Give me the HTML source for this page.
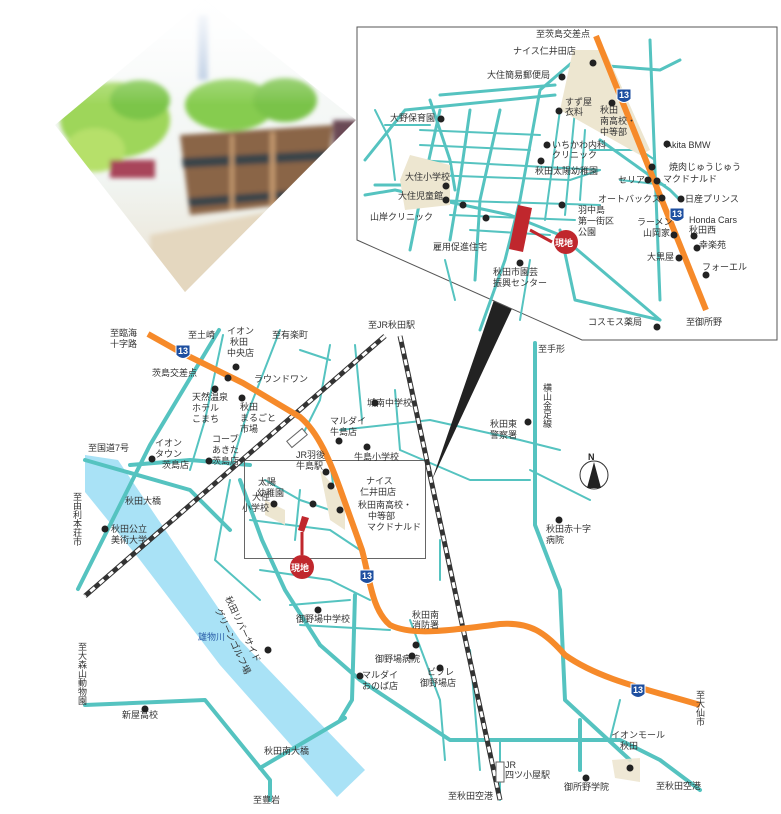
<!DOCTYPE html>
<html><head><meta charset="utf-8"><style>
html,body{margin:0;padding:0;background:#fff;}
svg{display:block;}
text{font-family:"Liberation Sans","Noto Sans CJK JP",sans-serif;fill:#333;font-size:9px;}
.t{stroke:#55c3c0;fill:none;stroke-linecap:round;stroke-linejoin:round;}
</style></head><body>
<svg width="781" height="814" viewBox="0 0 781 814" xmlns="http://www.w3.org/2000/svg">
<defs>
<linearGradient id="bg" x1="0" y1="0" x2="0" y2="1"><stop offset="0" stop-color="#fbfcfd"/><stop offset="0.6" stop-color="#f1f5f2"/><stop offset="1" stop-color="#e9dfcd"/></linearGradient>
<linearGradient id="fade" x1="0" y1="0" x2="0" y2="1"><stop offset="0" stop-color="#fff" stop-opacity="1"/><stop offset="0.35" stop-color="#fff" stop-opacity="0"/></linearGradient>
<clipPath id="dm"><polygon points="205,0 356,120 185,292 55,125"/></clipPath>
<filter id="bl"><feGaussianBlur stdDeviation="2.5"/></filter>
</defs>
<!-- photo -->
<g clip-path="url(#dm)">
<rect x="40" y="0" width="320" height="300" fill="url(#bg)"/>
<g filter="url(#bl)">
<rect x="198" y="15" width="10" height="65" fill="#6f93c8" opacity="0.5"/>
<polygon points="150,235 356,195 356,300 150,300" fill="#e4d7bf"/>
<ellipse cx="115" cy="120" rx="55" ry="38" fill="#9ed65a"/>
<ellipse cx="95" cy="150" rx="30" ry="22" fill="#b6e06a"/>
<ellipse cx="140" cy="100" rx="30" ry="20" fill="#7cc548"/>
<rect x="110" y="160" width="45" height="18" fill="#a8455a"/>
<ellipse cx="230" cy="105" rx="45" ry="26" fill="#86cc50"/>
<ellipse cx="285" cy="100" rx="32" ry="22" fill="#7ac34a"/>
<path d="M180,135 L333,125 L325,200 L190,215 Z" fill="#8a6546"/>
<path d="M182,158 L333,150 L333,160 L183,168 Z" fill="#3a454a"/>
<path d="M188,198 L325,188 L325,196 L190,207 Z" fill="#3a454a"/>
<rect x="230" y="135" width="4" height="75" fill="#c49a70"/>
<rect x="270" y="132" width="5" height="75" fill="#c49a70"/>
<rect x="333" y="120" width="25" height="55" fill="#6b4a55"/>
</g>
<rect x="40" y="0" width="320" height="300" fill="url(#fade)"/>
</g>

<!-- river -->
<polygon points="85,455 118,460 172,540 240,640 365,770 337,797 220,665 140,560 85,492" fill="#a9e2f6"/>
<text x="198" y="640" font-size="10" style="fill:#2a5ea8">雄物川</text>

<!-- roads main map -->
<g class="t" stroke-width="4">
<path d="M78,589 L150,445 L219,330"/>
<path d="M85,460 L190,490 L230,530"/>
<path d="M130,465 L190,460 L250,465"/>
<path d="M85,705 L205,700 L270,780 L270,800"/>
<path d="M535,343 L535,525 L560,590 L565,700 L630,760"/>
<path d="M355,595 L352,700 L340,720"/>
<path d="M240,480 L262,540 L285,590 L320,645 L360,680 L450,740 L620,740 L660,760 L700,790"/>
<path d="M260,768 L345,718"/>
<path d="M580,720 L580,770"/>
</g>
<g class="t" stroke-width="2">
<path d="M223,335 L205,420 L190,470"/>
<path d="M280,330 L245,420 L230,470"/>
<path d="M330,345 L320,400 L300,440"/>
<path d="M355,345 L362,420"/>
<path d="M300,350 L330,360"/>
<path d="M340,430 L430,420 L520,440"/>
<path d="M395,390 L400,450 L470,480 L530,480"/>
<path d="M265,480 L300,500 L330,510"/>
<path d="M250,520 L330,530 L360,550"/>
<path d="M260,570 L330,580 L370,600"/>
<path d="M290,605 L350,600"/>
<path d="M300,625 L390,630"/>
<path d="M410,620 L440,700 L445,760"/>
<path d="M470,650 L480,770"/>
<path d="M520,440 L560,450"/>
<path d="M500,740 L500,800"/>
<path d="M620,700 L610,740"/>
<path d="M530,470 L590,500"/>
<path d="M230,480 L215,560 L260,600"/>
<path d="M330,460 L335,500"/>
<path d="M300,490 L295,540"/>
<path d="M440,540 L440,580"/>
</g>

<!-- small box -->
<rect x="244.5" y="460.5" width="181" height="98" fill="none" stroke="#666" stroke-width="1"/>
<polygon points="320,470 345,500 345,530 330,520" fill="#ede6d0"/>
<polygon points="265,500 285,510 285,525 265,515" fill="#ede6d0"/>

<!-- railways -->
<path d="M385,336 L85,596" stroke="#333" stroke-width="5" fill="none"/>
<path d="M385,336 L85,596" stroke="#fff" stroke-width="3" stroke-dasharray="6,6" fill="none"/>
<path d="M400,336 L500,800" stroke="#333" stroke-width="5" fill="none"/>
<path d="M400,336 L500,800" stroke="#fff" stroke-width="3" stroke-dasharray="6,6" fill="none"/>
<rect x="287" y="434" width="20" height="8" fill="#fff" stroke="#666" transform="rotate(-40 297 438)"/>
<rect x="496" y="762" width="8" height="20" fill="#fff" stroke="#666"/>

<!-- orange route main -->
<path d="M148,334 L180,352 L243,383 L300,417 C318,432 330,460 343,497 L362,550 C370,580 372,610 390,625 C410,635 440,632 500,624 C530,622 545,632 565,655 C600,680 650,690 700,705" stroke="#f68a2a" stroke-width="6" fill="none" stroke-linecap="butt"/>

<!-- wedge + inset -->
<polygon points="494,300 516,300 432,480" fill="#222"/>
<polygon points="357,27 777,27 777,340 582,340 357,240" fill="#fff" stroke="#555" stroke-width="1"/>
<g class="t" stroke-width="3">
<path d="M575,60 L540,90 L520,200 L505,260 L480,330"/>
<path d="M600,60 L575,60 L570,75"/>
<path d="M440,95 L555,85"/>
<path d="M365,160 L405,110 L455,105 L555,95"/>
<path d="M430,100 L450,160 L455,190"/>
<path d="M375,185 L415,185"/>
<path d="M365,195 L395,190 L440,200 L510,215 L560,235 L660,320"/>
<path d="M440,110 L420,200 L410,250"/>
<path d="M470,110 L460,180 L450,240"/>
<path d="M500,110 L480,200 L475,280"/>
<path d="M600,140 L670,190 L680,200"/>
<path d="M595,65 L660,70 L680,60"/>
<path d="M650,40 L660,300"/>
<path d="M560,230 L575,300 L660,320"/>
</g>
<g class="t" stroke-width="2">
<path d="M420,130 L540,135"/>
<path d="M420,145 L530,150"/>
<path d="M415,160 L600,170"/>
<path d="M430,175 L570,180 L600,170"/>
<path d="M430,200 L600,205"/>
<path d="M450,215 L575,220"/>
<path d="M470,230 L550,235"/>
<path d="M560,110 L545,220"/>
<path d="M575,110 L565,215"/>
<path d="M585,130 L580,200"/>
<path d="M375,110 L390,140 L395,180"/>
<path d="M385,125 L430,125"/>
<path d="M590,150 L640,150 L655,160"/>
<path d="M620,180 L665,185"/>
<path d="M445,260 L455,300"/>
<path d="M530,260 L520,320"/>
</g>
<polygon points="573,50 605,50 650,150 640,155 560,110" fill="#ede6d0"/>
<polygon points="410,155 450,165 450,205 405,210 400,180" fill="#ede6d0"/>
<path d="M596,36 L706,310" stroke="#f68a2a" stroke-width="6" fill="none"/>
<polygon points="518,205 532,208 523,252 509,249" fill="#c0272d"/>
<path d="M530,230 L552,242" stroke="#c0272d" stroke-width="3"/>
<circle cx="566" cy="242" r="12" fill="#c0272d"/>
<text x="555" y="246" font-size="10" font-weight="bold" style="fill:#fff">現地</text>

<!-- inset labels -->
<g font-size="8.5">
<text x="536" y="37">至茨島交差点</text>
<text x="513" y="54">ナイス仁井田店</text>
<text x="487" y="78">大住簡易郵便局</text>
<text x="565" y="105">すず屋</text><text x="565" y="115">衣料</text>
<text x="600" y="113">秋田</text><text x="600" y="124">南高校・</text><text x="600" y="135">中等部</text>
<text x="390" y="121">大野保育園</text>
<text x="552" y="148">いちかわ内科</text><text x="552" y="158">クリニック</text>
<text x="535" y="174">秋田太陽幼稚園</text>
<text x="405" y="180">大住小学校</text>
<text x="398" y="199">大住児童館</text>
<text x="370" y="220">山岸クリニック</text>
<text x="578" y="213">羽中島</text><text x="578" y="224">第一街区</text><text x="578" y="235">公園</text>
<text x="433" y="250">雇用促進住宅</text>
<text x="493" y="275">秋田市園芸</text><text x="493" y="286">振興センター</text>
<text x="666" y="148">Akita BMW</text>
<text x="669" y="170">焼肉じゅうじゅう</text>
<text x="618" y="183">セリア</text>
<text x="663" y="182">マクドナルド</text>
<text x="598" y="202">オートバックス</text>
<text x="685" y="202">日産プリンス</text>
<text x="689" y="223">Honda Cars</text><text x="689" y="233">秋田西</text>
<text x="637" y="225">ラーメン</text><text x="643" y="236">山岡家</text>
<text x="699" y="248">幸楽苑</text>
<text x="647" y="260">大黒屋</text>
<text x="702" y="270">フォーエル</text>
<text x="588" y="325">コスモス薬局</text>
<text x="686" y="325">至御所野</text>
</g>
<g fill="#222">
<circle cx="593" cy="63" r="3.5"/><circle cx="562" cy="77" r="3.5"/><circle cx="559" cy="111" r="3.5"/><circle cx="612" cy="103" r="3.5"/>
<circle cx="441" cy="119" r="3.5"/><circle cx="547" cy="145" r="3.5"/><circle cx="541" cy="161" r="3.5"/><circle cx="446" cy="186" r="3.5"/>
<circle cx="446" cy="200" r="3.5"/><circle cx="463" cy="205" r="3.5"/><circle cx="562" cy="205" r="3.5"/><circle cx="486" cy="218" r="3.5"/>
<circle cx="520" cy="263" r="3.5"/><circle cx="667" cy="144" r="3.5"/><circle cx="652" cy="167" r="3.5"/><circle cx="648" cy="180" r="3.5"/>
<circle cx="657" cy="181" r="3.5"/><circle cx="662" cy="198" r="3.5"/><circle cx="681" cy="199" r="3.5"/><circle cx="674" cy="235" r="3.5"/>
<circle cx="694" cy="236" r="3.5"/><circle cx="697" cy="248" r="3.5"/><circle cx="679" cy="258" r="3.5"/><circle cx="706" cy="275" r="3.5"/>
<circle cx="657" cy="327" r="3.5"/>
</g>

<!-- shields -->
<g font-size="8" font-weight="bold">
<g transform="translate(624,96)"><path d="M-7,-7 L7,-7 L7,3 Q0,10 -7,3Z" fill="#1e4fa0" stroke="#fff"/><text x="-5" y="2" style="fill:#fff">13</text></g>
<g transform="translate(677,215)"><path d="M-7,-7 L7,-7 L7,3 Q0,10 -7,3Z" fill="#1e4fa0" stroke="#fff"/><text x="-5" y="2" style="fill:#fff">13</text></g>
<g transform="translate(183,352)"><path d="M-7,-7 L7,-7 L7,3 Q0,10 -7,3Z" fill="#1e4fa0" stroke="#fff"/><text x="-5" y="2" style="fill:#fff">13</text></g>
<g transform="translate(367,577)"><path d="M-7,-7 L7,-7 L7,3 Q0,10 -7,3Z" fill="#1e4fa0" stroke="#fff"/><text x="-5" y="2" style="fill:#fff">13</text></g>
<g transform="translate(638,691)"><path d="M-7,-7 L7,-7 L7,3 Q0,10 -7,3Z" fill="#1e4fa0" stroke="#fff"/><text x="-5" y="2" style="fill:#fff">13</text></g>
</g>

<!-- site main map -->
<polygon points="302,516 309,518 304,532 298,530" fill="#c0272d"/>
<path d="M302,532 L302,555" stroke="#c0272d" stroke-width="3"/>
<circle cx="302" cy="567" r="12" fill="#c0272d"/>
<text x="291" y="571" font-size="10" font-weight="bold" style="fill:#fff">現地</text>

<!-- compass -->
<circle cx="594" cy="475" r="14" fill="#fff" stroke="#333"/>
<polygon points="594,462 587,488 601,488" fill="#222"/>
<text x="588" y="460" font-size="13" font-weight="bold" style="fill:#222">N</text>

<!-- main labels -->
<g font-size="8.5">
<text x="110" y="336">至臨海</text><text x="110" y="347">十字路</text>
<text x="188" y="338">至土崎</text>
<text x="227" y="334">イオン</text><text x="230" y="345">秋田</text><text x="227" y="356">中央店</text>
<text x="272" y="338">至有楽町</text>
<text x="368" y="328">至JR秋田駅</text>
<text x="152" y="376">茨島交差点</text>
<text x="254" y="382">ラウンドワン</text>
<text x="192" y="400">天然温泉</text><text x="192" y="411">ホテル</text><text x="192" y="422">こまち</text>
<text x="240" y="410">秋田</text><text x="240" y="421">まるごと</text><text x="240" y="432">市場</text>
<text x="367" y="406">城南中学校</text>
<text x="330" y="424">マルダイ</text><text x="330" y="435">牛島店</text>
<text x="155" y="446">イオン</text><text x="155" y="457">タウン</text><text x="162" y="468">茨島店</text>
<text x="212" y="442">コープ</text><text x="212" y="453">あきた</text><text x="212" y="464">茨島店</text>
<text x="88" y="451">至国道7号</text>
<text x="296" y="458">JR羽後</text><text x="296" y="469">牛島駅</text>
<text x="354" y="460">牛島小学校</text>
<text x="366" y="484">ナイス</text><text x="360" y="495">仁井田店</text>
<text x="358" y="508">秋田南高校・</text><text x="368" y="519">中等部</text>
<text x="367" y="530">マクドナルド</text>
<text x="258" y="485">太陽</text><text x="257" y="496">幼稚園</text>
<text x="252" y="500">大住</text><text x="242" y="511">小学校</text>
<text x="125" y="504">秋田大橋</text>
<text x="111" y="532">秋田公立</text><text x="111" y="543">美術大学</text>
<text x="490" y="427">秋田東</text><text x="490" y="438">警察署</text>
<text x="538" y="352">至手形</text>
<text x="546" y="532">秋田赤十字</text><text x="546" y="543">病院</text>
<text x="296" y="622">御野場中学校</text>
<text x="412" y="618">秋田南</text><text x="412" y="628">消防署</text>
<text x="375" y="662">御野場病院</text>
<text x="427" y="675">ビフレ</text><text x="420" y="686">御野場店</text>
<text x="362" y="678">マルダイ</text><text x="362" y="689">おのば店</text>
<text x="122" y="718">新屋高校</text>
<text x="264" y="754">秋田南大橋</text>
<text x="611" y="738">イオンモール</text><text x="620" y="749">秋田</text>
<text x="505" y="768">JR</text><text x="505" y="778">四ツ小屋駅</text>
<text x="448" y="799">至秋田空港</text>
<text x="564" y="790">御所野学院</text>
<text x="656" y="789">至秋田空港</text>
<text x="253" y="803">至豊岩</text>
</g>
<g font-size="8.5">
<text x="77" y="492" style="writing-mode:tb">至由利本荘市</text>
<text x="82" y="642" style="writing-mode:tb">至大森山動物園</text>
<text x="547" y="383" style="writing-mode:tb">横山金足線</text>
<text x="700" y="690" style="writing-mode:tb">至大仙市</text>
<text x="225" y="598" transform="rotate(65 225 598)">秋田リバーサイド</text>
<text x="215" y="610" transform="rotate(65 215 610)">グリーンゴルフ場</text>
</g>
<g fill="#222">
<circle cx="236" cy="367" r="3.5"/><circle cx="228" cy="378" r="3.5"/><circle cx="215" cy="389" r="3.5"/><circle cx="242" cy="398" r="3.5"/>
<circle cx="375" cy="403" r="3.5"/><circle cx="339" cy="441" r="3.5"/><circle cx="367" cy="447" r="3.5"/><circle cx="152" cy="459" r="3.5"/>
<circle cx="209" cy="461" r="3.5"/><circle cx="326" cy="472" r="3.5"/><circle cx="331" cy="486" r="3.5"/><circle cx="340" cy="510" r="3.5"/>
<circle cx="313" cy="504" r="3.5"/><circle cx="274" cy="504" r="3.5"/><circle cx="105" cy="529" r="3.5"/><circle cx="528" cy="422" r="3.5"/>
<circle cx="559" cy="520" r="3.5"/><circle cx="318" cy="610" r="3.5"/><circle cx="268" cy="650" r="3.5"/><circle cx="416" cy="645" r="3.5"/>
<circle cx="412" cy="656" r="3.5"/><circle cx="440" cy="668" r="3.5"/><circle cx="360" cy="676" r="3.5"/><circle cx="145" cy="709" r="3.5"/>
<circle cx="586" cy="778" r="3.5"/>
</g>
<polygon points="612,760 640,758 640,782 615,778" fill="#ede6d0" opacity="0.9"/>
<circle cx="630" cy="768" r="3.5" fill="#222"/>
</svg>
</body></html>
